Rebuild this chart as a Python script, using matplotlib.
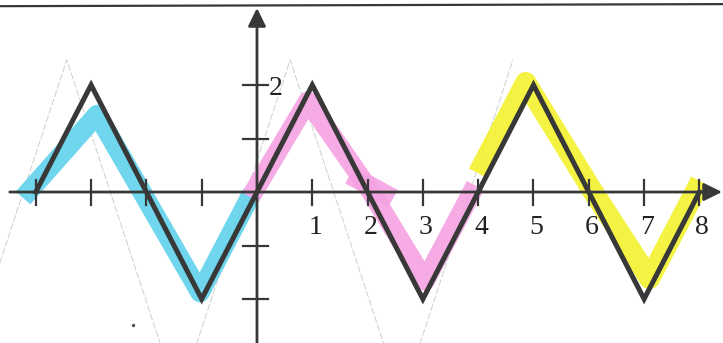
import matplotlib.pyplot as plt

# triangle wave, drawn over one unit per tick
wave_x = [-4, -3, -1, 1, 3, 5, 7, 8]
wave_y = [0, 2, -2, 2, -2, 2, -2, 0]

# highlighter strokes (one colour per period)
cyan_x = [-4.23, -2.89, -1.03, -0.09]
cyan_y = [-0.11, 1.45, -1.88, -0.02]
pink_x = [-0.12, 0.92, 2.05, 3.04, 3.95]
pink_y = [-0.10, 1.70, 0.02, -1.66, 0.12]
pink_blob_x = [1.68, 2.46]
pink_blob_y = [0.32, -0.12]
yellow_x = [4.0, 4.86, 6.05, 7.1, 8.02]
yellow_y = [0.35, 2.05, 0.05, -1.62, 0.2]

# faint pencil sketch underneath
ghost_x = [-4.65, -3.44, -1.42, 0.6, 2.62, 4.63]
ghost_y = [-1.33, 2.47, -3.87, 2.47, -3.87, 2.47]

x_ticks = [-4, -3, -2, -1, 1, 2, 3, 4, 5, 6, 7, 8]
x_labels = ['', '', '', '', '1', '2', '3', '4', '5', '6', '7', '8']
y_ticks = [-2, -1, 1, 2]

fig = plt.figure(figsize=(7.23, 3.43), dpi=100)
ax = fig.add_axes([0, 0, 1, 1])
ax.set_xlim(-4.647, 8.427)
ax.set_ylim(-2.822, 3.589)
ax.axis('off')

ink = '#383838'

ax.plot(ghost_x, ghost_y, color='#cfcfcf', lw=0.7, ls=(0, (7, 2)), zorder=1)

hl = dict(solid_joinstyle='round', solid_capstyle='butt', zorder=2)
ax.plot(cyan_x, cyan_y, color='#5fd2ec', lw=14, alpha=0.9, **hl)
ax.plot(pink_x, pink_y, color='#f5a2e3', lw=14, alpha=0.9, **hl)
ax.plot(pink_blob_x, pink_blob_y, color='#f5a2e3', lw=14, alpha=0.9, **hl)
ax.plot(yellow_x, yellow_y, color='#f3f22e', lw=15, alpha=0.9, **hl)

# axes with arrow heads
head = dict(arrowstyle='-|>,head_length=0.55,head_width=0.27', lw=2,
            color=ink, mutation_scale=20, shrinkA=0, shrinkB=0)
ax.annotate('', xy=(8.41, 0), xytext=(-4.47, 0), arrowprops=head, zorder=3)
ax.annotate('', xy=(0, 3.44), xytext=(0, -2.9), arrowprops=head, zorder=3)

# ruled line at the top of the page
ax.plot([0, 1], [0.982, 0.988], color=ink, lw=1.6, transform=ax.transAxes)

for t, lab in zip(x_ticks, x_labels):
    ax.plot([t, t], [0.23, -0.24], color=ink, lw=1.6, zorder=3)
    if lab:
        ax.text(t + 0.05, -0.66, lab, ha='center', va='center',
                family='Liberation Serif', fontsize=20, color='#222222')
for t in y_ticks:
    ax.plot([-0.25, 0.2], [t, t], color=ink, lw=1.6, zorder=3)
ax.text(0.22, 1.93, '2', ha='left', va='center',
        family='Liberation Serif', fontsize=20, color='#222222')

ax.plot(wave_x, wave_y, color=ink, lw=3.6, solid_joinstyle='miter', zorder=4)

ax.plot([-2.24], [-2.49], 'o', color='#555555', ms=1.5)

fig.savefig('out.png', dpi=100)
